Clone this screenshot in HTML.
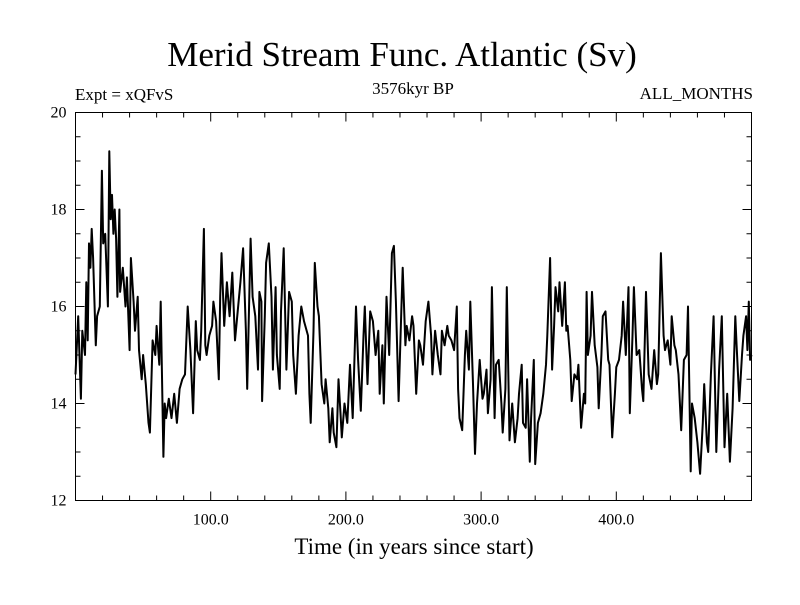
<!DOCTYPE html>
<html><head><meta charset="utf-8"><style>
body{margin:0;background:#fff;}
svg text{font-family:"Liberation Serif",serif;fill:#000;}
</style></head><body>
<svg id="chart" width="800" height="600">
<rect x="0" y="0" width="800" height="600" fill="#fff"/>
<text x="402" y="66" text-anchor="middle" font-size="35">Merid Stream Func. Atlantic (Sv)</text>
<text x="75" y="100" font-size="17">Expt = xQFvS</text>
<text x="413" y="94" text-anchor="middle" font-size="17">3576kyr BP</text>
<text x="753" y="99" text-anchor="end" font-size="17">ALL_MONTHS</text>
<text x="414" y="554" text-anchor="middle" font-size="23">Time (in years since start)</text>
<g id="axes"></g>
<path id="series" fill="none" stroke="#000" stroke-width="2" stroke-linejoin="round"/>
<rect x="75.5" y="112.5" width="676" height="388" fill="none" stroke="#000" stroke-width="1"/>
</svg>
<script>
const years=[0,2,4,5,7,8,9,10,11,12,13,15,16,18,19.5,20.5,22,24,25,26,27,28,29,30,31,32.5,33,35,37,38,40,41,43,44,46,47,49,50,52,54,55,57,59,60,62,63,65,66,67,69,71,73,75,77,79,81,83,85,87,89,90,92,93,95,96,97,99,101,102,104,106,107,108,110,112,114,116,118,120,122,124,126,127,129.5,131,133,135,136,137.5,138,140,141,143,145,146,148,149,151,152,154,156,158,160,161,163,165,167,169,172,173,174,176,177,179,180,182,184,185,187,188,190,191,193,194.5,196,197,199,201,203,205,206,207.5,209,211,213,214,216,218,220,222,224,225,227,228,230,232,234,235.5,237,239,241,242,244,245,247,249,250,252,254,255,257,259,261,263,264,266,268,270,271,273,275,276,278,280,282,283,284,286,288,289,291,292,294,295.5,297,299,301,302,304,305,307,308,310,311,313,315,316,318,319,321,323,325,327,328,330,331,333,334,336,337,339,340,342,344,346,348,349,351,352.5,354,355,357,358,360,362,363,364,366,367,369,371,372,374,376,377,378,379,381,382,384,386,387,389,390,392,394,395,397,399,400,402,404,405,407,409,410,412,413,415,417,419,420,422,424,426,428,430,431,433,435,436,438,440,441,443,444,446,448,450,452,453,455,456,458,460,462,464,465,467,468,470,472,474,476,478,480,482,484,486,488,489,491,493,494,496,497,498,499,500];
const values=[14.6,15.8,14.1,15.5,15.0,16.5,15.3,17.3,16.8,17.6,17.0,15.2,15.8,16.0,18.8,17.3,17.5,16.0,19.2,17.8,18.3,17.5,18.0,17.4,16.2,18.0,16.3,16.8,16.0,16.6,15.1,17.0,16.1,15.5,16.2,15.1,14.5,15.0,14.4,13.6,13.4,15.3,15.0,15.6,14.8,16.1,12.9,14.0,13.7,14.1,13.7,14.2,13.6,14.3,14.5,14.6,16.0,15.1,13.8,15.7,15.1,14.9,15.5,17.6,15.2,15.0,15.4,15.6,16.1,15.7,14.5,16.2,17.1,15.6,16.5,15.8,16.7,15.3,15.9,16.5,17.2,15.5,14.3,17.4,16.2,15.8,14.7,16.3,16.1,14.05,15.8,16.9,17.3,16.2,14.7,16.4,15.0,14.3,15.9,17.2,14.7,16.3,16.1,15.0,14.2,15.4,16.0,15.7,15.4,14.2,13.6,15.5,16.9,16.0,15.8,14.4,14.0,14.5,13.9,13.2,13.9,13.4,13.1,14.5,13.8,13.3,14.0,13.6,14.8,13.7,14.6,16.0,14.9,13.85,15.4,16.0,14.4,15.9,15.7,15.0,15.5,14.2,15.2,14.0,16.2,15.0,17.1,17.25,16.1,14.05,15.9,16.8,15.2,15.6,15.3,15.8,15.6,14.2,15.3,15.2,14.8,15.7,16.1,15.4,14.6,15.5,15.0,14.6,15.5,15.2,15.6,15.4,15.3,15.1,16.0,14.3,13.7,13.45,15.0,15.5,14.7,16.1,14.4,12.96,14.0,14.9,14.1,14.2,14.7,13.8,14.5,16.4,13.7,14.8,14.9,14.0,13.4,14.3,16.4,13.24,14.0,13.2,13.7,14.2,14.8,13.6,13.5,14.5,12.8,13.7,14.9,12.75,13.6,13.8,14.2,14.8,15.4,17.0,14.7,15.6,16.4,15.9,16.5,15.6,16.5,15.5,15.6,14.9,14.05,14.6,14.5,14.8,13.5,14.2,14.0,16.3,15.0,15.4,16.3,15.2,14.75,13.9,15.0,15.8,15.9,14.9,14.8,13.3,14.2,14.75,14.9,15.4,16.1,15.0,16.4,13.8,15.4,16.4,15.0,15.1,14.3,14.05,16.3,14.6,14.3,15.1,14.4,14.6,17.1,15.4,15.1,15.3,14.8,15.8,15.2,15.1,14.6,13.45,14.9,15.0,16.0,12.6,14.0,13.7,13.2,12.55,13.6,14.4,13.2,13.0,14.6,15.8,13.0,14.7,15.8,13.1,14.2,12.8,13.9,15.8,15.2,14.05,15.0,15.4,15.8,15.1,16.1,14.9,15.0];
const xTickValues=[100,200,300,400];
const xTickLabels=["100.0","200.0","300.0","400.0"];
const yTickValues=[12,14,16,18,20];
const yTickLabels=["12","14","16","18","20"];

const L=75.5,R=751.5,T=112.5,B=500.5,X0=0,X1=500,Y0=12,Y1=20;
function sx(v){return L+(v-X0)/(X1-X0)*(R-L);}
function sy(v){return B-(v-Y0)/(Y1-Y0)*(B-T);}
const NS="http://www.w3.org/2000/svg";
const axes=document.getElementById('axes');
function line(x1,y1,x2,y2,name){
  const l=document.createElementNS(NS,'line');
  l.setAttribute('x1',x1);l.setAttribute('y1',y1);l.setAttribute('x2',x2);l.setAttribute('y2',y2);
  l.setAttribute('stroke','#000');l.setAttribute('stroke-width','1');
  
  
  axes.appendChild(l);
}
for(let v=20;v<X1;v+=20){
  const x=sx(v),len=(v%100===0)?9:5;
  line(x,B,x,B-len,'x-tick');
  line(x,T,x,T+len,'x-tick-top');
}
for(let v=Y0+0.5;v<Y1;v+=0.5){
  const y=sy(v),len=(Math.abs(v%2)<1e-6)?9:5;
  line(L,y,L+len,y,'y-tick');
  line(R,y,R-len,y,'y-tick-right');
}
xTickValues.forEach((v,i)=>{
  const t=document.createElementNS(NS,'text');
  t.setAttribute('x',sx(v));t.setAttribute('y',B+24);
  t.setAttribute('text-anchor','middle');t.setAttribute('font-size','16');
  t.textContent=xTickLabels[i];
  
  
  axes.appendChild(t);
});
yTickValues.forEach((v,i)=>{
  const t=document.createElementNS(NS,'text');
  t.setAttribute('x',L-9);t.setAttribute('y',sy(v)+5);
  t.setAttribute('text-anchor','end');t.setAttribute('font-size','16');
  t.textContent=yTickLabels[i];
  
  
  axes.appendChild(t);
});
let d='';
years.forEach((yr,i)=>{d+=(i?'L':'M')+sx(yr).toFixed(1)+' '+sy(values[i]).toFixed(1);});
document.getElementById('series').setAttribute('d',d);
</script>
</body></html>
